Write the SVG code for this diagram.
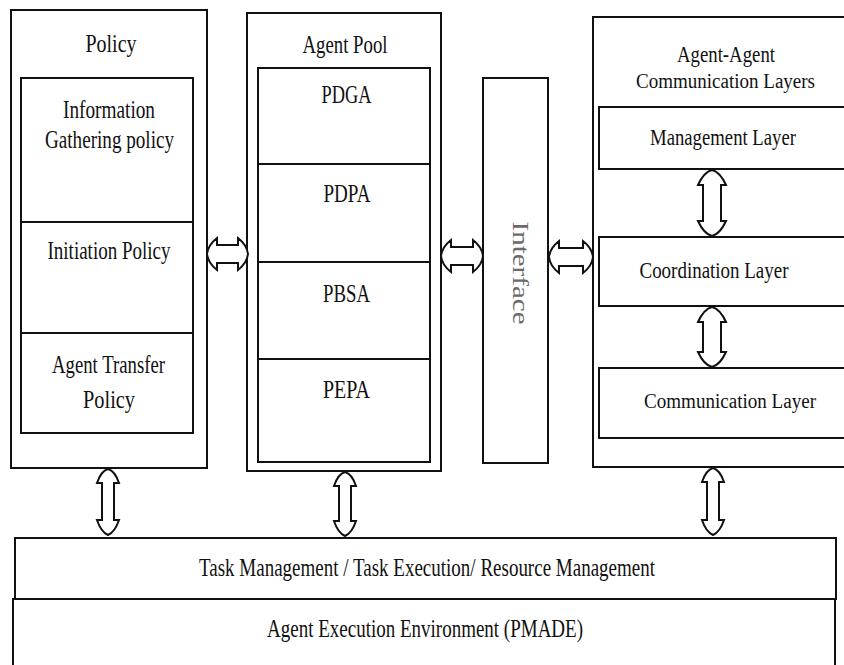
<svg xmlns="http://www.w3.org/2000/svg" width="844" height="665" viewBox="0 0 844 665">
  <style>
    .box { fill: #fff; stroke: #111; stroke-width: 2; }
    .lbl { font-family: "Liberation Serif", "Times New Roman", serif; font-size: 26px; fill: #111; text-anchor: middle; }
    .lbl-r { font-size: 23px; }
    .lbl-s { font-size: 20px; }
    .side { font-family: "Liberation Serif", "Times New Roman", serif; font-size: 24px; fill: #6a6a6a; text-anchor: middle; }
    .arrow { fill: #fff; stroke: #111; stroke-width: 2; stroke-linejoin: miter; }
  </style>
  <rect width="844" height="665" fill="#fff"/>

  <!-- Policy column -->
  <g id="policy">
    <rect class="box" x="11" y="10" width="196" height="458"/>
    <text class="lbl" x="111" y="52" textLength="51" lengthAdjust="spacingAndGlyphs">Policy</text>
    <g id="info-gathering">
      <rect class="box" x="21" y="78" width="172" height="144"/>
      <text class="lbl" x="109" y="118" textLength="92" lengthAdjust="spacingAndGlyphs">Information</text>
      <text class="lbl" x="109.5" y="148" textLength="129" lengthAdjust="spacingAndGlyphs">Gathering policy</text>
    </g>
    <g id="initiation">
      <rect class="box" x="21" y="222" width="172" height="111"/>
      <text class="lbl" x="109" y="259" textLength="123" lengthAdjust="spacingAndGlyphs">Initiation Policy</text>
    </g>
    <g id="agent-transfer">
      <rect class="box" x="21" y="333" width="172" height="100"/>
      <text class="lbl" x="108.5" y="373" textLength="113" lengthAdjust="spacingAndGlyphs">Agent Transfer</text>
      <text class="lbl" x="109" y="408" textLength="52" lengthAdjust="spacingAndGlyphs">Policy</text>
    </g>
  </g>

  <!-- Agent pool column -->
  <g id="agent-pool">
    <rect class="box" x="247" y="13" width="194" height="458"/>
    <text class="lbl" x="345" y="53" textLength="85" lengthAdjust="spacingAndGlyphs">Agent Pool</text>
    <g id="pdga">
      <rect class="box" x="258" y="68" width="172" height="96"/>
      <text class="lbl" x="346.5" y="103" textLength="50" lengthAdjust="spacingAndGlyphs">PDGA</text>
    </g>
    <g id="pdpa">
      <rect class="box" x="258" y="164" width="172" height="98"/>
      <text class="lbl" x="347" y="202" textLength="47" lengthAdjust="spacingAndGlyphs">PDPA</text>
    </g>
    <g id="pbsa">
      <rect class="box" x="258" y="262" width="172" height="97"/>
      <text class="lbl" x="346.5" y="302" textLength="47" lengthAdjust="spacingAndGlyphs">PBSA</text>
    </g>
    <g id="pepa">
      <rect class="box" x="258" y="359" width="172" height="103"/>
      <text class="lbl" x="346.5" y="398" textLength="47" lengthAdjust="spacingAndGlyphs">PEPA</text>
    </g>
  </g>

  <!-- Interface -->
  <g id="interface">
    <rect class="box" x="483" y="78" width="65" height="385"/>
    <text class="side" transform="translate(513,273) rotate(90)" x="0" y="0" textLength="103" lengthAdjust="spacingAndGlyphs">Interface</text>
  </g>

  <!-- Agent-agent communication layers (runs off the right edge) -->
  <g id="comm-layers">
    <rect class="box" x="593" y="17" width="260" height="450"/>
    <text class="lbl lbl-r" x="726" y="62" textLength="98" lengthAdjust="spacingAndGlyphs">Agent-Agent</text>
    <text class="lbl lbl-s" x="725.5" y="88" textLength="179" lengthAdjust="spacingAndGlyphs">Communication Layers</text>
    <g id="management-layer">
      <rect class="box" x="599" y="107" width="254" height="62"/>
      <text class="lbl lbl-r" x="723" y="145" textLength="146" lengthAdjust="spacingAndGlyphs">Management Layer</text>
    </g>
    <g id="coordination-layer">
      <rect class="box" x="599" y="237" width="254" height="69"/>
      <text class="lbl lbl-r" x="714" y="278" textLength="149" lengthAdjust="spacingAndGlyphs">Coordination Layer</text>
    </g>
    <g id="communication-layer">
      <rect class="box" x="599" y="368" width="254" height="70"/>
      <text class="lbl lbl-s" x="730" y="408" textLength="172" lengthAdjust="spacingAndGlyphs">Communication Layer</text>
    </g>
  </g>

  <!-- Bottom bars -->
  <g id="task-management">
    <rect class="box" x="15" y="538" width="821" height="61"/>
    <text class="lbl" x="427" y="576" textLength="456" lengthAdjust="spacingAndGlyphs">Task Management / Task Execution/ Resource Management</text>
  </g>
  <g id="execution-env">
    <rect class="box" x="13" y="599" width="822" height="80"/>
    <text class="lbl" x="425" y="637" textLength="316" lengthAdjust="spacingAndGlyphs">Agent Execution Environment (PMADE)</text>
  </g>

  <!-- Connectors: hollow double-headed block arrows -->
  <g id="connectors">
    <!-- horizontal: policy <-> agent pool -->
    <path class="arrow" d="M207,254 Q208,245 217,238 L217,245 L238,245 L238,238 Q247,245 248,254 Q247,263 238,270 L238,263 L217,263 L217,270 Q208,263 207,254 Z"/>
    <!-- horizontal: agent pool <-> interface -->
    <path class="arrow" d="M441,256 Q442,247 451,240 L451,247 L473,247 L473,240 Q482,247 483,256 Q482,265 473,272 L473,265 L451,265 L451,272 Q442,265 441,256 Z"/>
    <!-- horizontal: interface <-> communication layers -->
    <path class="arrow" d="M549,257 Q550,248 559,241 L559,248 L583,248 L583,241 Q592,248 593,257 Q592,266 583,273 L583,266 L559,266 L559,273 Q550,266 549,257 Z"/>
    <!-- vertical: management <-> coordination -->
    <path class="arrow" d="M712,170 Q704,172 698,185 L703,185 L703,221 L698,221 Q704,234 712,236 Q720,234 726,221 L721,221 L721,185 L726,185 Q720,172 712,170 Z"/>
    <!-- vertical: coordination <-> communication -->
    <path class="arrow" d="M712,307 Q704,309 698,322 L703,322 L703,352 L698,352 Q704,365 712,367 Q720,365 726,352 L721,352 L721,322 L726,322 Q720,309 712,307 Z"/>
    <!-- vertical: policy <-> task management -->
    <path class="arrow" d="M108,469 Q101,471 97,483 L102,483 L102,520 L97,520 Q101,532 108,535 Q115,532 119,520 L114,520 L114,483 L119,483 Q115,471 108,469 Z"/>
    <!-- vertical: agent pool <-> task management -->
    <path class="arrow" d="M345,472 Q338,474 334,486 L339,486 L339,521 L334,521 Q338,533 345,536 Q352,533 356,521 L351,521 L351,486 L356,486 Q352,474 345,472 Z"/>
    <!-- vertical: communication layers <-> task management -->
    <path class="arrow" d="M713,468 Q706,470 702,482 L707,482 L707,520 L702,520 Q706,532 713,535 Q720,532 724,520 L719,520 L719,482 L724,482 Q720,470 713,468 Z"/>
  </g>
</svg>
